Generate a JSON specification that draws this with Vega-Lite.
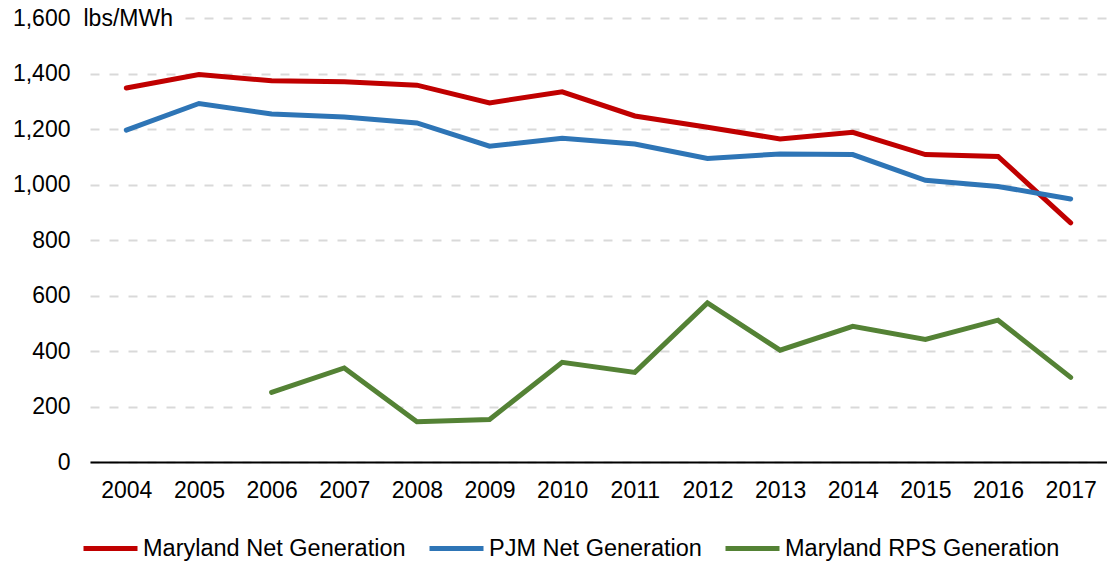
{
  "$schema": "https://vega.github.io/schema/vega-lite/v6.json",
  "width": 1017,
  "height": 444,
  "autosize": {"type": "none"},
  "padding": {"left": 90, "top": 18, "right": 0, "bottom": 100},
  "background": "white",
  "config": {
    "font": "Liberation Sans",
    "view": {"stroke": null}
  },
  "data": {
    "values": [
      {"year": "2004", "series": "Maryland Net Generation", "value": 1348},
      {"year": "2005", "series": "Maryland Net Generation", "value": 1396},
      {"year": "2006", "series": "Maryland Net Generation", "value": 1374},
      {"year": "2007", "series": "Maryland Net Generation", "value": 1370},
      {"year": "2008", "series": "Maryland Net Generation", "value": 1358},
      {"year": "2009", "series": "Maryland Net Generation", "value": 1294},
      {"year": "2010", "series": "Maryland Net Generation", "value": 1334},
      {"year": "2011", "series": "Maryland Net Generation", "value": 1247},
      {"year": "2012", "series": "Maryland Net Generation", "value": 1206},
      {"year": "2013", "series": "Maryland Net Generation", "value": 1164},
      {"year": "2014", "series": "Maryland Net Generation", "value": 1188},
      {"year": "2015", "series": "Maryland Net Generation", "value": 1108},
      {"year": "2016", "series": "Maryland Net Generation", "value": 1101},
      {"year": "2017", "series": "Maryland Net Generation", "value": 862},
      {"year": "2004", "series": "PJM Net Generation", "value": 1196},
      {"year": "2005", "series": "PJM Net Generation", "value": 1292},
      {"year": "2006", "series": "PJM Net Generation", "value": 1254},
      {"year": "2007", "series": "PJM Net Generation", "value": 1243},
      {"year": "2008", "series": "PJM Net Generation", "value": 1222},
      {"year": "2009", "series": "PJM Net Generation", "value": 1138},
      {"year": "2010", "series": "PJM Net Generation", "value": 1167},
      {"year": "2011", "series": "PJM Net Generation", "value": 1146},
      {"year": "2012", "series": "PJM Net Generation", "value": 1094},
      {"year": "2013", "series": "PJM Net Generation", "value": 1110},
      {"year": "2014", "series": "PJM Net Generation", "value": 1108},
      {"year": "2015", "series": "PJM Net Generation", "value": 1015},
      {"year": "2016", "series": "PJM Net Generation", "value": 993},
      {"year": "2017", "series": "PJM Net Generation", "value": 948},
      {"year": "2006", "series": "Maryland RPS Generation", "value": 251},
      {"year": "2007", "series": "Maryland RPS Generation", "value": 339},
      {"year": "2008", "series": "Maryland RPS Generation", "value": 145},
      {"year": "2009", "series": "Maryland RPS Generation", "value": 153},
      {"year": "2010", "series": "Maryland RPS Generation", "value": 359},
      {"year": "2011", "series": "Maryland RPS Generation", "value": 323},
      {"year": "2012", "series": "Maryland RPS Generation", "value": 573},
      {"year": "2013", "series": "Maryland RPS Generation", "value": 403},
      {"year": "2014", "series": "Maryland RPS Generation", "value": 489},
      {"year": "2015", "series": "Maryland RPS Generation", "value": 442},
      {"year": "2016", "series": "Maryland RPS Generation", "value": 511},
      {"year": "2017", "series": "Maryland RPS Generation", "value": 305}
    ]
  },
  "mark": {"type": "line", "strokeWidth": 5, "strokeCap": "round"},
  "encoding": {
    "x": {
      "field": "year",
      "type": "ordinal",
      "scale": {"type": "point", "padding": 0.5},
      "axis": {
        "title": null,
        "labelAngle": 0,
        "labelFontSize": 23,
        "labelColor": "#000000",
        "labelPadding": 17,
        "ticks": false,
        "domainColor": "#000000",
        "domainWidth": 2,
        "grid": false
      }
    },
    "y": {
      "field": "value",
      "type": "quantitative",
      "scale": {"domain": [0, 1600], "nice": false},
      "axis": {
        "values": [0, 200, 400, 600, 800, 1000, 1200, 1400, 1600],
        "format": ",.0f",
        "title": "lbs/MWh",
        "titleAngle": 0,
        "titleX": -7,
        "titleY": 0,
        "titleAlign": "left",
        "titleBaseline": "middle",
        "titleFontSize": 23,
        "titleFontWeight": "normal",
        "titleColor": "#000000",
        "labelFontSize": 23,
        "labelColor": "#000000",
        "labelPadding": 20,
        "ticks": false,
        "domain": false,
        "grid": true,
        "gridColor": "#D9D9D9",
        "gridWidth": 2,
        "gridDash": {
          "condition": {
            "test": "datum.value === 1600",
            "value": [0, 95, 9, 10, 9, 10, 9, 10, 9, 10, 9, 10, 9, 10, 9, 10, 9, 10, 9, 10, 9, 10, 9, 10, 9, 10, 9, 10, 9, 10, 9, 10, 9, 10, 9, 10, 9, 10, 9, 10, 9, 10, 9, 10, 9, 10, 9, 10, 9, 10, 9, 10, 9, 10, 9, 10, 9, 10, 9, 10, 9, 10, 9, 10, 9, 10, 9, 10, 9, 10, 9, 10, 9, 10, 9, 10, 9, 10, 9, 10, 9, 10, 9, 10, 9, 10, 9, 10, 9, 10, 9, 10, 9, 10, 9, 10, 9, 10, 9, 10]
          },
          "value": [9, 10]
        }
      }
    },
    "color": {
      "field": "series",
      "type": "nominal",
      "scale": {
        "domain": ["Maryland Net Generation", "PJM Net Generation", "Maryland RPS Generation"],
        "range": ["#C00000", "#2E75B6", "#548235"]
      },
      "legend": {
        "title": null,
        "orient": "none",
        "direction": "horizontal",
        "legendX": -9,
        "legendY": 501,
        "symbolType": "stroke",
        "symbolStrokeWidth": 5,
        "symbolSize": 2916,
        "labelFontSize": 23.5,
        "labelLimit": 0,
        "labelColor": "#000000",
        "labelOffset": 3,
        "columnPadding": 13
      }
    }
  }
}
